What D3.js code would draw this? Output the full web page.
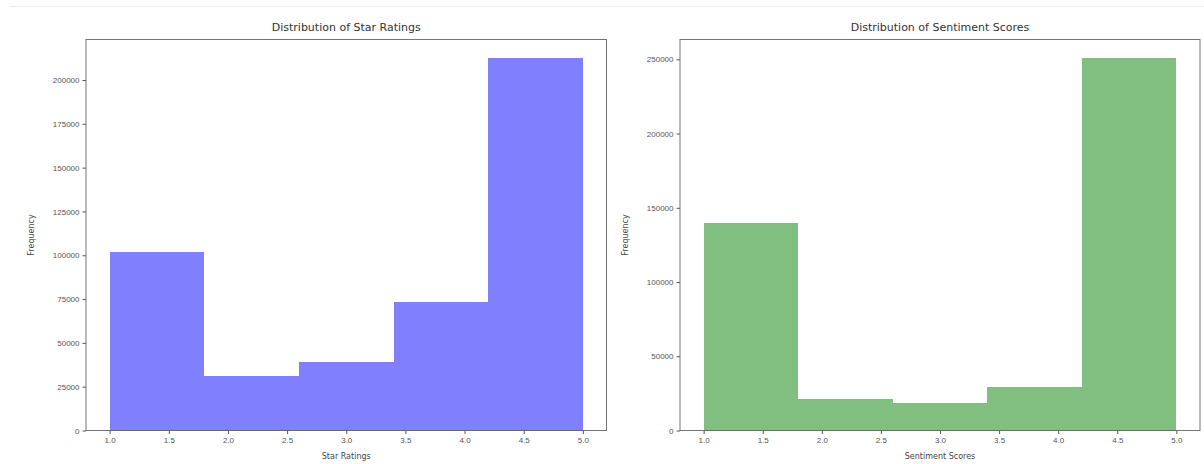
<!DOCTYPE html>
<html>
<head>
<meta charset="utf-8">
<script src="https://cdn.jsdelivr.net/npm/d3@7"></script>
<style>
  body { margin: 0; background: #fff; }
  svg { display: block; font-family: "DejaVu Sans", sans-serif; }
  .tick text { fill: #555; font-size: 8px; }
  .tick line { stroke: #555; }
  .title { fill: #333; font-size: 11px; }
  .label { fill: #444; font-size: 8px; }
</style>
</head>
<body>
<script>
// bin edges shared by both histograms
const binEdges = [1.0, 1.8, 2.6, 3.4, 4.2, 5.0];
const starCounts = [102100, 31300, 38900, 73400, 212500];
const sentimentCounts = [139600, 21300, 18200, 29000, 250800];
const xTicks = [1.0, 1.5, 2.0, 2.5, 3.0, 3.5, 4.0, 4.5, 5.0];
const starYTicks = [0, 25000, 50000, 75000, 100000, 125000, 150000, 175000, 200000];
const sentimentYTicks = [0, 50000, 100000, 150000, 200000, 250000];

const W = 1204, H = 464;

const svg = d3.select("body")
  .append("svg")
  .attr("width", W)
  .attr("height", H);

// faint notebook separator line
svg.append("line")
  .attr("x1", 10).attr("x2", W)
  .attr("y1", 6.5).attr("y2", 6.5)
  .attr("stroke", "#eee");

const panels = [
  { left: 86, right: 606.5, counts: starCounts, yTicks: starYTicks, color: "#8080ff",
    title: "Distribution of Star Ratings", xLabel: "Star Ratings" },
  { left: 680, right: 1200, counts: sentimentCounts, yTicks: sentimentYTicks, color: "#80bf80",
    title: "Distribution of Sentiment Scores", xLabel: "Sentiment Scores" }
];

const plotTop = 39.5, plotBottom = 430.5;

panels.forEach(p => {
  const bins = p.counts.map((c, i) => ({ x0: binEdges[i], x1: binEdges[i + 1], value: c }));
  const maxVal = d3.max(bins, d => d.value);

  // matplotlib style 5% margins
  const x = d3.scaleLinear().domain([1 - 0.2, 5 + 0.2]).range([p.left, p.right]);
  const y = d3.scaleLinear().domain([0, maxVal * 1.05]).range([plotBottom, plotTop]);

  const g = svg.append("g");

  g.selectAll("rect.bar")
    .data(bins)
    .enter()
    .append("rect")
    .attr("class", "bar")
    .attr("x", d => x(d.x0))
    .attr("width", d => x(d.x1) - x(d.x0))
    .attr("y", d => y(d.value))
    .attr("height", d => y(0) - y(d.value))
    .attr("fill", p.color)
    .attr("shape-rendering", "crispEdges");

  const xAxis = d3.axisBottom(x).tickValues(xTicks).tickFormat(d3.format(".1f")).tickSize(3.5).tickPadding(3);
  g.append("g")
    .attr("transform", `translate(0,${plotBottom})`)
    .call(xAxis)
    .call(a => a.select(".domain").remove());

  const yAxis = d3.axisLeft(y).tickValues(p.yTicks).tickFormat(d3.format("d")).tickSize(3.5).tickPadding(3);
  g.append("g")
    .attr("transform", `translate(${p.left},0)`)
    .call(yAxis)
    .call(a => a.select(".domain").remove());

  // frame
  g.append("rect")
    .attr("x", p.left)
    .attr("y", plotTop)
    .attr("width", p.right - p.left)
    .attr("height", plotBottom - plotTop)
    .attr("fill", "none")
    .attr("stroke", "#666")
    .attr("stroke-width", 0.9);

  g.append("text")
    .attr("class", "title")
    .attr("x", (p.left + p.right) / 2)
    .attr("y", 31)
    .attr("text-anchor", "middle")
    .text(p.title);

  g.append("text")
    .attr("class", "label")
    .attr("x", (p.left + p.right) / 2)
    .attr("y", 459)
    .attr("text-anchor", "middle")
    .text(p.xLabel);

  g.append("text")
    .attr("class", "label")
    .attr("transform", `translate(${p.left - 52},${(plotTop + plotBottom) / 2}) rotate(-90)`)
    .attr("text-anchor", "middle")
    .text("Frequency");
});
</script>
</body>
</html>
